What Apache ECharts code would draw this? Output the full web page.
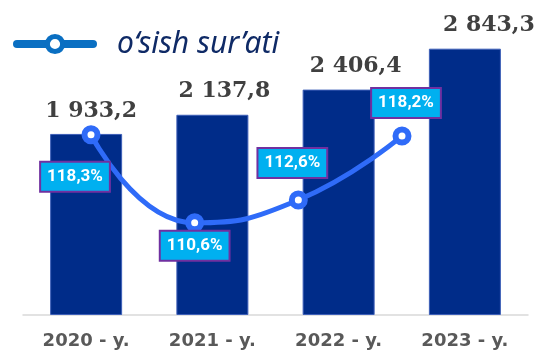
<!DOCTYPE html>
<html>
<head>
<meta charset="utf-8">
<script src="https://cdn.jsdelivr.net/npm/echarts@6/dist/echarts.min.js"></script>
<style>
  html, body { margin: 0; padding: 0; background: #fff; }
  #chart { width: 549px; height: 353px; }
</style>
</head>
<body>
<div id="chart"></div>
<script>
// Years shown along the bottom axis
const years = ['2020 - y.', '2021 - y.', '2022 - y.', '2023 - y.'];
// Annual totals (bars)
const totals = [1933.2, 2137.8, 2406.4, 2843.3];
// Growth rate, percent (line)
const growth = [118.3, 110.6, 112.6, 118.2];
const growthName = 'o‘sish sur’ati';

// Label nudges, kept apart from the values
const totalLabelShift = [5, 12, 17, 24];
const growthLabelShift = [[-16, 42], [0, 23], [-6, -37], [4, -33]];

const fmtTotal = v => {
  const [i, d] = v.toFixed(1).split('.');
  return i.replace(/\B(?=(\d{3})+(?!\d))/g, ' ') + ',' + d;
};
const fmtPct = v => v.toFixed(1).replace('.', ',') + '%';

const chart = echarts.init(document.getElementById('chart'), null, { renderer: 'canvas' });

chart.setOption({
  animation: false,
  legend: {
    left: 13,
    top: 29,
    padding: 0,
    itemWidth: 76,
    itemHeight: 19,
    data: [growthName],
    lineStyle: { color: '#0A6FC2', width: 8, cap: 'round' },
    itemStyle: { color: '#fff', borderColor: '#0A6FC2', borderWidth: 5 },
    textStyle: {
      fontFamily: 'Noto Sans',
      fontStyle: 'italic',
      fontSize: 30,
      color: '#0F2A66',
      padding: [8, 0, 0, 19]
    }
  },
  grid: [
    { left: 23, right: 21, top: 34, bottom: 38 },
    { left: 91, right: 147, top: 1, bottom: 9 }
  ],
  xAxis: [
    {
      type: 'category',
      gridIndex: 0,
      data: years,
      axisTick: { show: false },
      axisLine: { lineStyle: { color: '#D9D9D9', width: 1.5 } },
      axisLabel: {
        margin: 17,
        fontFamily: 'DejaVu Sans',
        fontWeight: 'bold',
        fontSize: 18,
        color: '#595959'
      }
    },
    {
      type: 'category',
      gridIndex: 1,
      data: years,
      boundaryGap: false,
      show: false
    }
  ],
  yAxis: [
    { type: 'value', gridIndex: 0, min: 0, max: 3000, show: false },
    { type: 'value', gridIndex: 1, min: 100, max: 130, show: false }
  ],
  series: [
    {
      type: 'bar',
      xAxisIndex: 0,
      yAxisIndex: 0,
      barWidth: 72,
      itemStyle: { color: '#002C89', borderColor: '#3D5FB8', borderWidth: 1 },
      data: totals.map((v, i) => ({
        value: v,
        label: { offset: [totalLabelShift[i], 0] }
      })),
      label: {
        show: true,
        position: 'top',
        distance: 12,
        fontFamily: 'DejaVu Serif',
        fontWeight: 'bold',
        fontSize: 22,
        color: '#404040',
        formatter: p => fmtTotal(p.value)
      }
    },
    {
      type: 'line',
      name: growthName,
      xAxisIndex: 1,
      yAxisIndex: 1,
      z: 5,
      smooth: 0.5,
      symbol: 'circle',
      symbolSize: 13,
      lineStyle: { color: '#2F6BF8', width: 5 },
      itemStyle: { color: '#fff', borderColor: '#2F6BF8', borderWidth: 6 },
      data: growth.map((v, i) => ({
        value: v,
        label: { offset: growthLabelShift[i] }
      })),
      label: {
        show: true,
        position: 'inside',
        fontFamily: 'Roboto, sans-serif',
        fontWeight: 'bold',
        fontSize: 17,
        lineHeight: 18,
        color: '#fff',
        backgroundColor: '#00B0F0',
        borderColor: '#7030A0',
        borderWidth: 2,
        padding: [5, 6],
        formatter: p => fmtPct(p.value)
      }
    }
  ]
});
</script>
</body>
</html>
